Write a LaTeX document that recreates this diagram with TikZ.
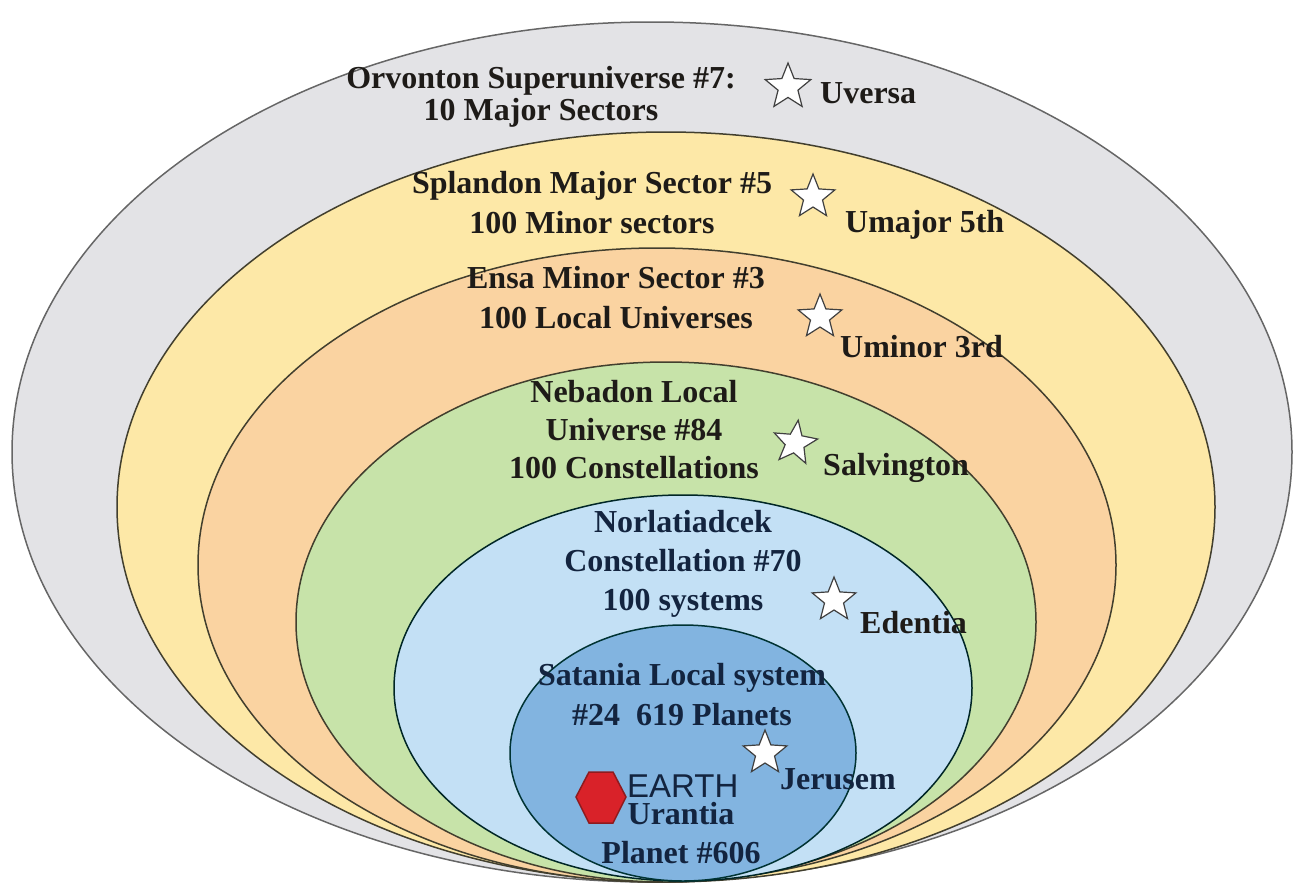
\documentclass[tikz,border=0pt]{standalone}
\usepackage{fontspec}
\setmainfont{Liberation Serif}
\newfontfamily\earthfont{Liberation Sans}
\usepackage{xcolor}
\definecolor{ringGray}{HTML}{E3E3E6}
\definecolor{ringYellow}{HTML}{FDE8A7}
\definecolor{ringPeach}{HTML}{FAD3A1}
\definecolor{ringGreen}{HTML}{C7E3A9}
\definecolor{ringLight}{HTML}{C3E0F5}
\definecolor{ringBlue}{HTML}{82B4E0}
\definecolor{inkDark}{HTML}{1E1B18}
\definecolor{inkNavy}{HTML}{13243F}
\definecolor{earthRed}{HTML}{D92229}
\definecolor{earthEdge}{HTML}{8E1B1F}
\usepackage{tikz}
\usetikzlibrary{shapes.geometric}

\begin{document}
\begin{tikzpicture}[x=1pt, y=-1pt,
  ring/.style={draw=black!70!olive, line width=1.5pt},
  lbl/.style={font=\fontsize{32}{40}\selectfont\bfseries, align=center,
    anchor=base, inner sep=0pt, text=inkDark},
  seat/.style={font=\fontsize{32}{40}\selectfont\bfseries,
    anchor=base west, inner sep=0pt, text=inkDark},
  capital/.style={star, star points=5, star point ratio=2.3,
    minimum size=48pt, inner sep=0pt, draw=black!75, fill=white,
    line width=1.2pt}
]
  \useasboundingbox (0,0) rectangle (1293,884);

  % Nested rings, outermost first
  \draw[ring, draw=black!60, fill=ringGray] (652,452) ellipse [x radius=640, y radius=430];
  \draw[ring, fill=ringYellow] (666,507) ellipse [x radius=549, y radius=375];
  \draw[ring, fill=ringPeach] (657,565) ellipse [x radius=459, y radius=317];
  \draw[ring, fill=ringGreen] (666,622) ellipse [x radius=370, y radius=260];
  \draw[ring, draw=black!70!teal, fill=ringLight] (683,688) ellipse [x radius=289, y radius=193];
  \draw[ring, draw=black!60!teal, fill=ringBlue] (683,753) ellipse [x radius=173, y radius=128];

  % Ring titles (placed on the baseline of their last line)
  \node[lbl, font=\fontsize{32}{32}\selectfont\bfseries] (orvonton) at (541,120)
    {Orvonton Superuniverse \#7:\\10 Major Sectors};
  \node[lbl] (splandon) at (592,233) {Splandon Major Sector \#5\\100 Minor sectors};
  \node[lbl] (ensa) at (616,328) {Ensa Minor Sector \#3\\100 Local Universes};
  \node[lbl, font=\fontsize{32}{38}\selectfont\bfseries] (nebadon) at (634,478)
    {Nebadon Local\\Universe \#84\\100 Constellations};
  \node[lbl, text=inkNavy, font=\fontsize{32}{39}\selectfont\bfseries] (norlatiadek) at (683,610)
    {Norlatiadcek\\Constellation \#70\\100 systems};
  \node[lbl, text=inkNavy] (satania) at (682,725) {Satania Local system\\\#24~~619 Planets};

  % Capitals
  \node[capital] (uversaStar) at (788,87) {};
  \node[seat] (uversa) at (820,103) {Uversa};
  \node[capital, minimum size=46pt] (umajorStar) at (813,197) {};
  \node[seat] (umajor) at (845,232) {Umajor 5th};
  \node[capital, minimum size=46pt] (uminorStar) at (820,317) {};
  \node[seat] (uminor) at (840,357) {Uminor 3rd};
  \node[capital, minimum size=46pt, rotate=-8] (salvStar) at (795,443) {};
  \node[seat] (salvington) at (823,475) {Salvington};
  \node[capital, minimum size=46pt] (edentiaStar) at (834,600) {};
  \node[seat] (edentia) at (860,633) {Edentia};
  \node[capital, minimum size=46pt] (jerusemStar) at (765,753) {};
  \node[seat, text=inkNavy] (jerusem) at (780,789) {Jerusem};

  % Earth
  \draw[fill=earthRed, draw=earthEdge, line width=1.5pt]
    (576,797) -- (589,772) -- (613,772) -- (626,797) -- (613,823) -- (589,823) -- cycle;
  \node[seat, text=inkNavy, font=\fontsize{33}{40}\selectfont\earthfont] (earth) at (627,797) {EARTH};
  \node[lbl, text=inkNavy, font=\fontsize{32}{39}\selectfont\bfseries] (urantia) at (681,863)
    {Urantia\\Planet \#606};
\end{tikzpicture}
\end{document}
